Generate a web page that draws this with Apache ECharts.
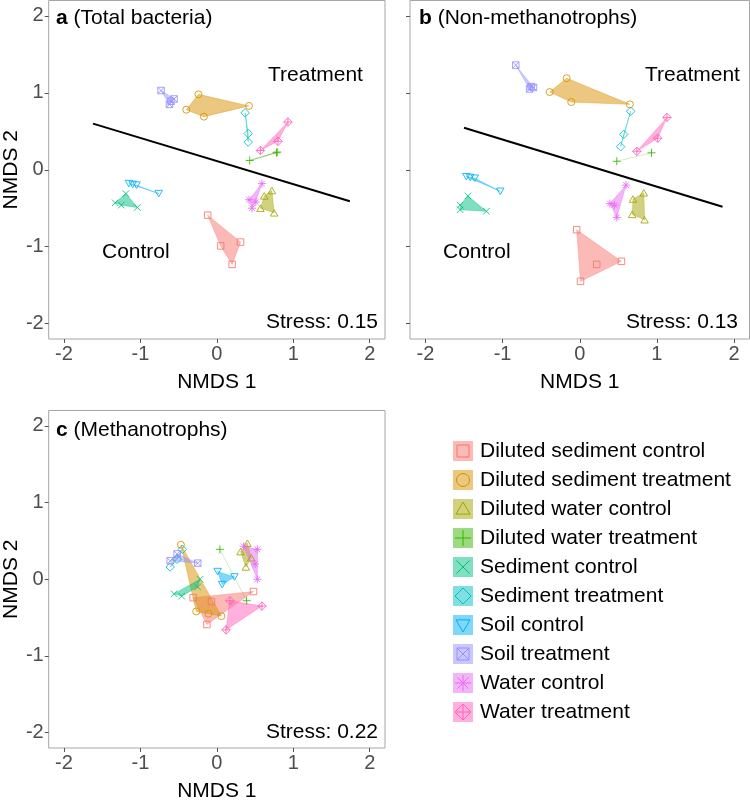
<!DOCTYPE html>
<html>
<head>
<meta charset="utf-8">
<script src="https://cdn.jsdelivr.net/npm/echarts@6/dist/echarts.min.js"></script>
<style>
html,body{margin:0;padding:0;background:#fff;}
#chart{width:750px;height:803px;}
</style>
</head>
<body>
<div id="chart"></div>
<script>
// ---------- data ----------
const groups = [
  "Diluted sediment control", "Diluted sediment treatment", "Diluted water control",
  "Diluted water treatment", "Sediment control", "Sediment treatment",
  "Soil control", "Soil treatment", "Water control", "Water treatment"
];
const colors = ["#F8766D","#D89000","#A3A500","#39B600","#00BF7D","#00BFC4","#00B0F6","#9590FF","#E76BF3","#FF62BC"];
const tickValues = [-2, -1, 0, 1, 2];
const panelTitles = [["a", " (Total bacteria)"], ["b", " (Non-methanotrophs)"], ["c", " (Methanotrophs)"]];
const stressLabels = ["Stress: 0.15", "Stress: 0.13", "Stress: 0.22"];

// NMDS scores, one list of [NMDS1, NMDS2] per group (same order as groups)
const totalBacteria = [
  [[-0.12,-0.59],[0.05,-0.99],[0.31,-0.94],[0.20,-1.23]],
  [[-0.24,0.98],[-0.40,0.78],[-0.17,0.69],[0.42,0.83]],
  [[0.72,-0.27],[0.62,-0.34],[0.57,-0.50],[0.75,-0.56]],
  [[0.43,0.12],[0.79,0.23],[0.78,0.22]],
  [[-1.19,-0.31],[-1.33,-0.43],[-1.25,-0.46],[-1.04,-0.49]],
  [[0.37,0.74],[0.41,0.47],[0.41,0.36]],
  [[-1.15,-0.18],[-1.05,-0.20],[-0.76,-0.31],[-1.10,-0.19]],
  [[-0.73,1.03],[-0.56,0.92],[-0.62,0.85],[-0.60,0.89]],
  [[0.59,-0.18],[0.42,-0.39],[0.51,-0.42],[0.46,-0.50]],
  [[0.93,0.62],[0.80,0.37],[0.57,0.25]]
];
const nonMethanotrophs = [
  [[-0.04,-0.78],[0.22,-1.23],[0.54,-1.19],[0.01,-1.45]],
  [[-0.17,1.19],[-0.39,1.01],[-0.11,0.88],[0.65,0.85]],
  [[0.83,-0.30],[0.69,-0.38],[0.68,-0.58],[0.84,-0.65]],
  [[0.48,0.11],[0.93,0.22]],
  [[-1.45,-0.34],[-1.55,-0.46],[-1.55,-0.52],[-1.21,-0.54]],
  [[0.66,0.76],[0.57,0.46],[0.53,0.30]],
  [[-1.47,-0.09],[-1.36,-0.11],[-1.03,-0.28],[-1.42,-0.10]],
  [[-0.83,1.36],[-0.63,1.08],[-0.65,1.05],[-0.60,1.07]],
  [[0.60,-0.20],[0.39,-0.44],[0.45,-0.46],[0.48,-0.62]],
  [[1.13,0.68],[1.01,0.41],[0.74,0.24]]
];
const methanotrophs = [
  [[-0.31,-0.24],[-0.07,-0.29],[0.48,-0.16],[-0.13,-0.59]],
  [[-0.47,0.45],[-0.27,-0.42],[-0.11,-0.45],[0.06,-0.48]],
  [[0.40,0.47],[0.31,0.36],[0.45,0.28],[0.38,0.16]],
  [[0.04,0.39],[0.39,-0.28]],
  [[-0.22,0.00],[-0.56,-0.19],[-0.46,-0.22],[-0.25,-0.10]],
  [[-0.45,0.39],[-0.52,0.26],[-0.61,0.16]],
  [[0.01,0.10],[0.23,0.03],[0.07,-0.07]],
  [[-0.52,0.33],[-0.61,0.24],[-0.25,0.21]],
  [[0.35,0.43],[0.53,0.39],[0.50,0.20],[0.53,0.00]],
  [[0.17,-0.28],[0.59,-0.35],[0.12,-0.66]]
];
// Separating lines (endpoints in NMDS units)
const lineA = [[-1.62,0.60],[1.74,-0.41]];
const lineB = [[-1.50,0.545],[1.85,-0.48]];

// ---------- styling helpers ----------
const FONT = "'Liberation Sans', Arial, Helvetica, sans-serif";
const panels = [totalBacteria, nonMethanotrophs, methanotrophs];

// symbol outlines as sub-paths in unit box [-1,1]; c = closed
const SQ = {c: true, p: [[-1,-1],[1,-1],[1,1],[-1,1]]};
const DI = {c: true, p: [[0,-1],[1,0],[0,1],[-1,0]]};
const PV = {c: false, p: [[0,-1],[0,1]]};
const PH = {c: false, p: [[-1,0],[1,0]]};
const X1 = {c: false, p: [[-1,-1],[1,1]]};
const X2 = {c: false, p: [[1,-1],[-1,1]]};
const XS1 = {c: false, p: [[-0.71,-0.71],[0.71,0.71]]};
const XS2 = {c: false, p: [[0.71,-0.71],[-0.71,0.71]]};
const shapeParts = [
  [SQ],
  null, // circle
  [{c: true, p: [[0,-1],[1,0.73],[-1,0.73]]}],
  [PV, PH],
  [X1, X2],
  [DI],
  [{c: true, p: [[-1,-0.73],[1,-0.73],[0,1]]}],
  [SQ, X1, X2],
  [PV, PH, XS1, XS2],
  [DI, PV, PH]
];
const symbolSizes = [6.5, 7, 7.5, 8, 6.5, 8.5, 7.5, 6.5, 8, 8.5];
const legendRadius = [6, 6.5, 7, 8, 6.5, 8, 7, 6, 8, 8];

function rgba(hex, a) {
  const n = parseInt(hex.slice(1), 16);
  return `rgba(${(n>>16)&255},${(n>>8)&255},${n&255},${a})`;
}
function symbolFor(i) {
  const parts = shapeParts[i];
  if (!parts) return 'circle';
  return 'path://' + parts.map(s => 'M' + s.p.map(q => q[0] + ',' + q[1]).join(' L') + (s.c ? ' Z' : '')).join(' ');
}
function hull(pts) {
  const p = pts.slice().sort((a, b) => a[0] - b[0] || a[1] - b[1]);
  if (p.length < 3) return p;
  const cross = (o, a, b) => (a[0]-o[0])*(b[1]-o[1]) - (a[1]-o[1])*(b[0]-o[0]);
  const lower = [], upper = [];
  for (const q of p) { while (lower.length >= 2 && cross(lower[lower.length-2], lower[lower.length-1], q) <= 0) lower.pop(); lower.push(q); }
  for (let i = p.length - 1; i >= 0; i--) { const q = p[i]; while (upper.length >= 2 && cross(upper[upper.length-2], upper[upper.length-1], q) <= 0) upper.pop(); upper.push(q); }
  upper.pop(); lower.pop();
  return lower.concat(upper);
}

// ---------- layout ----------
const grids = [
  {left: 46, top: 0.5, width: 339, height: 338.5},
  {left: 410, top: 0.5, width: 339.5, height: 338.5},
  {left: 46, top: 410.5, width: 339, height: 338.5}
];

const xAxes = grids.map((g, k) => ({
  type: 'value', gridIndex: k, min: -2.2, max: 2.2, position: 'bottom',
  axisLine: {show: false, onZero: false}, splitLine: {show: false},
  axisTick: {show: true, length: 4, customValues: tickValues, lineStyle: {color: '#555', width: 1}},
  axisLabel: {customValues: tickValues, fontSize: 20, color: '#4d4d4d', margin: 5, fontFamily: FONT},
  name: 'NMDS 1', nameLocation: 'middle', nameGap: 33,
  nameTextStyle: {fontSize: 21, color: '#000', fontFamily: FONT}
}));
const yAxes = grids.map((g, k) => ({
  type: 'value', gridIndex: k, min: -2.2, max: 2.2, position: 'left',
  axisLine: {show: false, onZero: false}, splitLine: {show: false},
  axisTick: {show: true, length: 4, customValues: tickValues, lineStyle: {color: '#555', width: 1}},
  axisLabel: {show: k !== 1, customValues: tickValues, fontSize: 20, color: '#4d4d4d', margin: 5, fontFamily: FONT},
  name: k !== 1 ? 'NMDS 2' : '', nameLocation: 'middle', nameGap: 25,
  nameTextStyle: {fontSize: 21, color: '#000', fontFamily: FONT}
}));

const series = [];
panels.forEach((panel, k) => {
  series.push({
    type: 'custom', xAxisIndex: k, yAxisIndex: k, silent: true, z: 1,
    data: panel.map(pts => [pts[0][0], pts[0][1]]),
    renderItem: (params, api) => {
      const gi = params.dataIndex;
      const h = hull(panel[gi]);
      const pts = h.map(p => api.coord(p));
      if (h.length < 3) {
        return {type: 'polyline', shape: {points: pts},
          style: {fill: null, stroke: rgba(colors[gi], 0.3), lineWidth: 0.8}};
      }
      return {type: 'polygon', shape: {points: pts},
        style: {fill: rgba(colors[gi], 0.5), stroke: rgba(colors[gi], 0.45), lineWidth: 0.8}};
    }
  });
  panel.forEach((pts, gi) => {
    series.push({
      type: 'scatter', name: groups[gi], xAxisIndex: k, yAxisIndex: k, z: 3,
      data: pts, symbol: symbolFor(gi), symbolSize: symbolSizes[gi], symbolKeepAspect: true,
      itemStyle: {color: 'rgba(0,0,0,0)', borderColor: colors[gi], borderWidth: 1, opacity: 0.85},
      silent: true
    });
  });
});
[lineA, lineB].forEach((ln, k) => {
  series.push({type: 'line', xAxisIndex: k, yAxisIndex: k, data: ln, symbol: 'none', z: 2,
    lineStyle: {color: '#000', width: 2}, silent: true});
});

// ---------- text annotations & legend ----------
const graphic = [];
const titlePos = [[56, 18], [419, 18], [56, 430]];
panelTitles.forEach((t, k) => {
  graphic.push({type: 'text', x: titlePos[k][0], y: titlePos[k][1],
    style: {text: '{b|' + t[0] + '}' + t[1], font: '21px ' + FONT, fill: '#000', verticalAlign: 'middle',
      rich: {b: {fontWeight: 'bold', fontSize: 21, fontFamily: FONT, fill: '#000'}}}});
});
const stressPos = [[378, 322], [738, 322], [378, 732]];
stressLabels.forEach((s, k) => {
  graphic.push({type: 'text', x: stressPos[k][0], y: stressPos[k][1],
    style: {text: s, font: '21px ' + FONT, fill: '#000', align: 'right', verticalAlign: 'middle'}});
});
[[268, 75, 'Treatment'], [102, 252, 'Control'], [645, 75, 'Treatment'], [443, 252, 'Control']].forEach(a => {
  graphic.push({type: 'text', x: a[0], y: a[1],
    style: {text: a[2], font: '21px ' + FONT, fill: '#000', verticalAlign: 'middle'}});
});
groups.forEach((name, gi) => {
  const cy = 451 + gi * 29, cx = 463, r = legendRadius[gi];
  graphic.push({type: 'rect', shape: {x: cx - 10, y: cy - 10, width: 20, height: 20},
    style: {fill: rgba(colors[gi], 0.5)}});
  const parts = shapeParts[gi];
  if (parts) {
    parts.forEach(s => {
      const pts = s.p.map(q => [cx + q[0] * r, cy + q[1] * r]);
      graphic.push({type: s.c ? 'polygon' : 'polyline', shape: {points: pts},
        style: {fill: s.c ? 'none' : null, stroke: colors[gi], lineWidth: 1}});
    });
  } else {
    graphic.push({type: 'circle', shape: {cx: cx, cy: cy, r: r},
      style: {fill: 'none', stroke: colors[gi], lineWidth: 1}});
  }
  graphic.push({type: 'text', x: 480, y: cy,
    style: {text: name, font: '21px ' + FONT, fill: '#000', verticalAlign: 'middle'}});
});

const chart = echarts.init(document.getElementById('chart'), null, {renderer: 'canvas'});
chart.setOption({
  animation: false,
  backgroundColor: '#fff',
  grid: grids.map(g => Object.assign({show: true, borderColor: '#a6a6a6', borderWidth: 1, backgroundColor: 'transparent'}, g)),
  xAxis: xAxes,
  yAxis: yAxes,
  series: series,
  graphic: graphic
});
</script>
</body>
</html>
